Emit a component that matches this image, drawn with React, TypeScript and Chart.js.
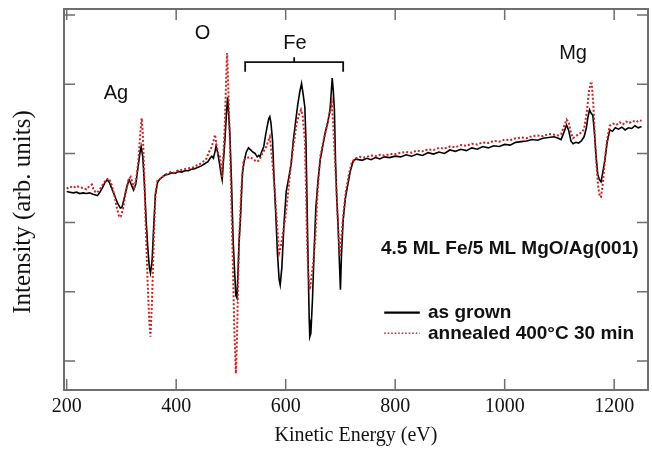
import React, { useEffect, useRef } from "react";
import { Chart, registerables } from "chart.js";

Chart.register(...registerables);

// ---- data ----
const energyGrown = [
  200, 206, 212, 218, 224, 230, 236, 242, 248, 253, 256, 260, 265, 270, 274, 278, 283, 288, 293, 298,
  301, 305, 310, 314, 318, 322, 326, 330, 334, 336, 339, 342, 345, 348, 351, 353, 356, 359, 362, 366,
  370, 375, 380, 386, 392, 398, 404, 410, 416, 422, 428, 434, 440, 446, 452, 458, 462, 465, 468, 471,
  473, 476, 479, 482, 484, 486, 489, 492, 494, 496, 498, 501, 504, 507, 509, 511, 513, 515, 517, 519,
  521, 524, 528, 532, 536, 540, 544, 548, 551, 553, 556, 560, 563, 566, 569, 571, 573, 576, 579, 582,
  585, 588, 590, 593, 597, 601, 605, 610, 614, 618, 622, 626, 629, 632, 635, 637, 639, 641, 643, 644,
  646, 649, 652, 655, 659, 663, 668, 672, 677, 681, 683, 685, 687, 689, 691, 693, 696, 698, 700, 702,
  705, 709, 714, 718, 723, 728, 733, 740, 748, 756, 764, 772, 780, 790, 800, 810, 820, 830, 840, 850,
  860, 870, 880, 890, 900, 910, 920, 930, 940, 950, 960, 970, 980, 990, 1000, 1010, 1020, 1030, 1040, 1050,
  1060, 1070, 1080, 1090, 1098, 1103, 1108, 1113, 1117, 1121, 1125, 1130, 1135, 1140, 1145, 1149, 1152, 1155, 1158, 1161,
  1164, 1167, 1170, 1173, 1176, 1179, 1183, 1187, 1192, 1197, 1202, 1208, 1214, 1220, 1226, 1232, 1238, 1244, 1250,
];
const intensityGrown = [
  2.45, 2.44, 2.43, 2.44, 2.42, 2.43, 2.42, 2.43, 2.41, 2.40, 2.39, 2.43, 2.50, 2.58, 2.62, 2.58, 2.48, 2.38, 2.28, 2.21,
  2.22, 2.35, 2.52, 2.62, 2.55, 2.47, 2.55, 2.78, 3.02, 3.10, 2.95, 2.55, 2.05, 1.65, 1.35, 1.27, 1.45, 1.95, 2.40, 2.58,
  2.63, 2.66, 2.69, 2.70, 2.72, 2.71, 2.74, 2.73, 2.75, 2.75, 2.77, 2.78, 2.80, 2.82, 2.85, 2.88, 2.93, 2.96, 2.93, 3.03,
  3.11, 3.00, 2.86, 2.70, 2.62, 2.85, 3.19, 3.60, 3.81, 3.55, 3.29, 2.60, 1.75, 1.25, 0.95, 0.91, 1.30, 1.75, 1.99, 2.35,
  2.71, 2.88, 3.02, 3.08, 3.05, 3.02, 3.00, 2.95, 2.97, 2.95, 3.02, 3.10, 3.25, 3.38, 3.50, 3.53, 3.45, 3.19, 2.60, 2.10,
  1.55, 1.18, 1.10, 1.35, 1.99, 2.45, 2.62, 2.85, 3.19, 3.45, 3.70, 3.90, 4.01, 3.85, 3.67, 3.20, 2.30, 1.40, 0.60, 0.35,
  0.40, 0.90, 1.60, 2.20, 2.60, 2.90, 3.12, 3.29, 3.45, 3.63, 3.85, 4.09, 3.90, 3.63, 2.90, 2.42, 1.90, 1.46, 1.03, 1.55,
  2.04, 2.35, 2.57, 2.74, 2.88, 2.92, 2.91, 2.90, 2.93, 2.91, 2.94, 2.92, 2.95, 2.94, 2.96, 2.95, 2.98, 2.96, 2.99, 2.97,
  3.01, 2.99, 3.02, 3.00, 3.05, 3.03, 3.06, 3.04, 3.08, 3.06, 3.10, 3.08, 3.11, 3.10, 3.13, 3.12, 3.16, 3.17, 3.18, 3.20,
  3.19, 3.22, 3.23, 3.24, 3.22, 3.20, 3.30, 3.41, 3.33, 3.18, 3.14, 3.16, 3.15, 3.18, 3.24, 3.36, 3.52, 3.63, 3.58, 3.55,
  3.30, 2.95, 2.70, 2.62, 2.59, 2.72, 2.90, 3.15, 3.34, 3.32, 3.37, 3.35, 3.38, 3.34, 3.37, 3.36, 3.40, 3.37, 3.39,
];
const energyAnnealed = [
  200, 206, 212, 218, 224, 230, 236, 242, 246, 250, 255, 260, 266, 272, 277, 282, 287, 292, 296, 299,
  303, 308, 313, 317, 320, 323, 327, 331, 334, 337, 339, 342, 345, 348, 351, 353, 356, 359, 362, 366,
  372, 378, 384, 390, 396, 402, 408, 414, 420, 426, 432, 438, 444, 449, 455, 460, 464, 468, 471, 474,
  477, 480, 484, 486, 489, 491, 493, 495, 498, 501, 504, 506, 509, 511, 513, 515, 519, 523, 528, 535,
  540, 547, 552, 556, 561, 565, 568, 571, 573, 576, 580, 584, 588, 591, 595, 599, 604, 608, 614, 620,
  624, 628, 631, 635, 637, 639, 641, 644, 647, 650, 654, 658, 663, 668, 673, 678, 682, 684, 687, 690,
  693, 696, 699, 702, 705, 710, 715, 721, 728, 735, 742, 748, 756, 764, 772, 780, 790, 800, 810, 820,
  830, 839, 850, 860, 870, 880, 890, 900, 910, 920, 930, 940, 950, 960, 970, 980, 990, 1000, 1010, 1020,
  1030, 1040, 1050, 1060, 1070, 1080, 1090, 1098, 1103, 1108, 1113, 1117, 1121, 1125, 1130, 1135, 1140, 1145, 1150, 1154,
  1157, 1159, 1162, 1165, 1168, 1171, 1174, 1176, 1179, 1183, 1187, 1192, 1198, 1204, 1210, 1216, 1222, 1228, 1234, 1240,
  1246, 1250,
];
const intensityAnnealed = [
  2.49, 2.52, 2.50, 2.53, 2.51, 2.50, 2.48, 2.53, 2.55, 2.46, 2.43, 2.47, 2.55, 2.62, 2.64, 2.55, 2.40, 2.20, 2.08, 2.09,
  2.20, 2.45, 2.62, 2.66, 2.58, 2.51, 2.62, 2.90, 3.25, 3.51, 3.30, 2.60, 1.80, 1.10, 0.55, 0.35, 0.90, 1.75, 2.40, 2.62,
  2.64, 2.68, 2.71, 2.73, 2.72, 2.75, 2.76, 2.77, 2.78, 2.79, 2.80, 2.83, 2.85, 2.88, 2.92, 3.02, 3.08, 3.18, 3.27, 3.10,
  3.00, 2.95, 2.66, 2.95, 3.44, 4.00, 4.45, 4.00, 3.19, 2.20, 1.27, 0.50, -0.18, 0.30, 1.10, 1.75, 2.50, 2.90, 2.93, 2.95,
  2.92, 2.88, 2.90, 2.98, 3.05, 3.10, 3.18, 3.24, 3.10, 2.85, 2.47, 2.00, 1.56, 1.65, 1.85, 2.04, 2.40, 2.72, 3.10, 3.43,
  3.55, 3.63, 3.55, 3.19, 2.50, 1.75, 1.30, 1.03, 1.20, 1.40, 1.75, 2.40, 2.95, 3.15, 3.32, 3.50, 3.65, 3.75, 3.40, 2.90,
  2.42, 1.90, 1.51, 1.80, 2.09, 2.45, 2.68, 2.88, 2.93, 2.95, 2.94, 2.95, 2.97, 2.96, 2.98, 2.97, 2.99, 2.99, 3.01, 3.02,
  3.01, 3.04, 3.03, 3.06, 3.05, 3.08, 3.07, 3.10, 3.09, 3.12, 3.11, 3.14, 3.13, 3.16, 3.15, 3.18, 3.17, 3.20, 3.19, 3.22,
  3.23, 3.22, 3.25, 3.26, 3.25, 3.28, 3.27, 3.26, 3.28, 3.38, 3.49, 3.45, 3.30, 3.22, 3.25, 3.28, 3.30, 3.35, 3.60, 3.90,
  4.01, 4.01, 3.70, 3.20, 2.80, 2.50, 2.37, 2.37, 2.55, 2.90, 3.20, 3.40, 3.43, 3.41, 3.45, 3.42, 3.46, 3.44, 3.47, 3.45,
  3.48, 3.47,
];
const xTickValues = [200, 400, 600, 800, 1000, 1200];
const yTickValues = [0, 1, 2, 3, 4, 5];
const seriesNames = ["as grown", "annealed 400°C 30 min"];
const sampleLabel = "4.5 ML Fe/5 ML MgO/Ag(001)";
const elementNames = ["Ag", "O", "Fe", "Mg"];
const elementEnergies = [290, 448, 617, 1125];
const elementHeights = [3.87, 4.73, 4.59, 4.44];
const feRange = [526, 705];

const FRAME = "#6e6e6e";
const RED = "#cc2222";
const SANS = '"Liberation Sans", Arial, sans-serif';
const SERIF = '"Liberation Serif", "Times New Roman", serif';

const decorPlugin = {
  id: "decor",
  afterDatasetsDraw(chart: any) {
    const { ctx, chartArea: a, scales } = chart;
    const x = scales.x;
    const y = scales.y;
    const X = (v: number) => x.getPixelForValue(v);
    const Y = (v: number) => y.getPixelForValue(v);
    ctx.save();
    ctx.strokeStyle = FRAME;
    ctx.lineWidth = 2;
    ctx.setLineDash([]);
    ctx.strokeRect(a.left, a.top, a.right - a.left, a.bottom - a.top);
    ctx.lineWidth = 1.5;
    ctx.beginPath();
    x.ticks.forEach((t: any) => {
      const px = X(t.value);
      ctx.moveTo(px, a.bottom);
      ctx.lineTo(px, a.bottom - 11);
      ctx.moveTo(px, a.top);
      ctx.lineTo(px, a.top + 11);
    });
    y.ticks.forEach((t: any) => {
      const py = Y(t.value);
      ctx.moveTo(a.left, py);
      ctx.lineTo(a.left + 11, py);
      ctx.moveTo(a.right, py);
      ctx.lineTo(a.right - 11, py);
    });
    ctx.stroke();

    ctx.fillStyle = "#111";
    ctx.font = `20px ${SANS}`;
    ctx.textAlign = "center";
    ctx.textBaseline = "middle";
    elementNames.forEach((n, i) => ctx.fillText(n, X(elementEnergies[i]), Y(elementHeights[i])));

    ctx.strokeStyle = "#111";
    ctx.lineWidth = 1.8;
    ctx.beginPath();
    ctx.moveTo(X(feRange[0]), Y(4.18));
    ctx.lineTo(X(feRange[0]), Y(4.32));
    ctx.lineTo(X(feRange[1]), Y(4.32));
    ctx.lineTo(X(feRange[1]), Y(4.18));
    const mid = (feRange[0] + feRange[1]) / 2;
    ctx.moveTo(X(mid), Y(4.32));
    ctx.lineTo(X(mid), Y(4.39));
    ctx.stroke();

    ctx.font = `bold 19px ${SANS}`;
    ctx.textAlign = "left";
    ctx.fillText(sampleLabel, X(774), Y(1.62));

    const legendY = [0.7, 0.4];
    legendY.forEach((ly, i) => {
      ctx.beginPath();
      ctx.strokeStyle = i === 0 ? "#000" : RED;
      ctx.lineWidth = i === 0 ? 2.2 : 1.5;
      ctx.setLineDash(i === 0 ? [] : [1.5, 2]);
      ctx.moveTo(X(780), Y(ly));
      ctx.lineTo(X(845), Y(ly));
      ctx.stroke();
      ctx.setLineDash([]);
      ctx.fillStyle = "#111";
      ctx.fillText(seriesNames[i], X(860), Y(ly));
    });
    ctx.restore();
  },
};

export default function App() {
  const ref = useRef<HTMLCanvasElement | null>(null);
  useEffect(() => {
    if (!ref.current) return;
    const chart = new Chart(ref.current, {
      type: "line",
      data: {
        datasets: [
          {
            label: seriesNames[1],
            data: energyAnnealed.map((e, i) => ({ x: e, y: intensityAnnealed[i] })),
            borderColor: RED,
            borderWidth: 2,
            borderDash: [2, 2],
            pointRadius: 0,
            tension: 0,
            order: 0,
          },
          {
            label: seriesNames[0],
            data: energyGrown.map((e, i) => ({ x: e, y: intensityGrown[i] })),
            borderColor: "#000",
            borderWidth: 1.6,
            pointRadius: 0,
            tension: 0,
            order: 1,
          },
        ],
      },
      options: {
        animation: false,
        responsive: true,
        maintainAspectRatio: false,
        layout: { padding: { left: 4, right: 4, top: 9, bottom: 0 } },
        plugins: { legend: { display: false }, tooltip: { enabled: false } },
        scales: {
          x: {
            type: "linear",
            min: 195.1,
            max: 1261.8,
            afterBuildTicks: (s: any) => {
              s.ticks = xTickValues.map((v) => ({ value: v }));
            },
            grid: { display: false, drawTicks: false },
            border: { display: false },
            ticks: {
              color: "#111",
              font: { family: SERIF, size: 20 },
              padding: 5,
              maxRotation: 0,
              callback: (v: any) => String(v),
            },
            title: {
              display: true,
              text: "Kinetic Energy (eV)",
              color: "#111",
              font: { family: SERIF, size: 20 },
              padding: { top: 0, bottom: 1 },
            },
          },
          y: {
            type: "linear",
            min: -0.419,
            max: 5.087,
            afterBuildTicks: (s: any) => {
              s.ticks = yTickValues.map((v) => ({ value: v }));
            },
            grid: { display: false, drawTicks: false },
            border: { display: false },
            ticks: { display: false },
            title: {
              display: true,
              text: "Intensity (arb. units)    ",
              color: "#111",
              font: { family: SERIF, size: 25 },
              padding: { top: 4, bottom: 26 },
            },
          },
        },
      },
      plugins: [decorPlugin],
    });
    return () => chart.destroy();
  }, []);
  return (
    <div style={{ position: "fixed", left: 0, top: 0, width: 652, height: 449, background: "#fff" }}>
      <canvas ref={ref} />
    </div>
  );
}
